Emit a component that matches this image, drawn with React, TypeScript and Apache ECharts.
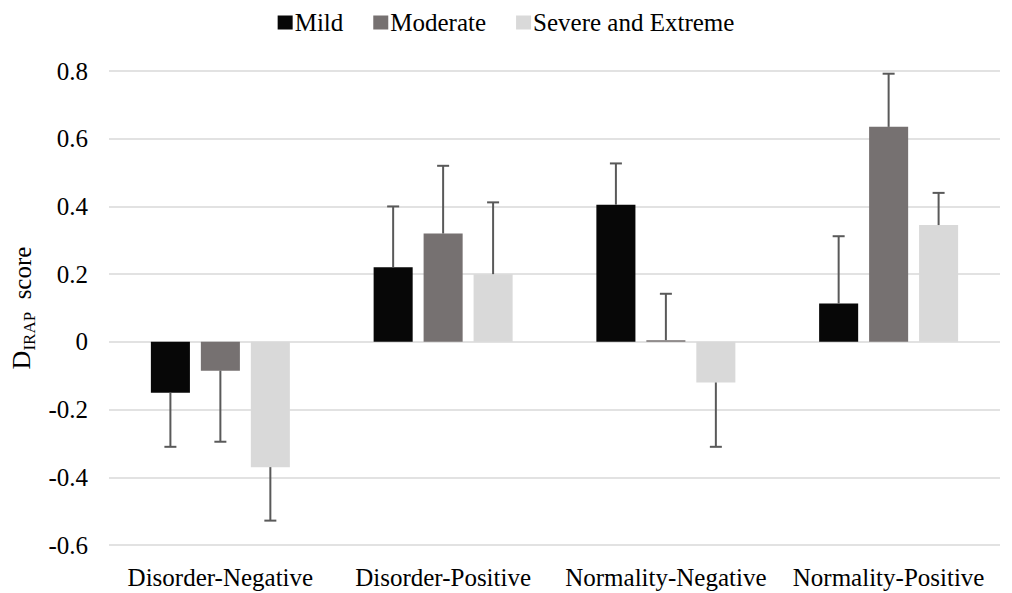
import React, { useEffect, useRef } from "react";
import * as echarts from "echarts";

const categories = ["Disorder-Negative", "Disorder-Positive", "Normality-Negative", "Normality-Positive"];
const seriesNames = ["Mild", "Moderate", "Severe and Extreme"];
const mild = [-0.15, 0.22, 0.405, 0.113];
const moderate = [-0.085, 0.32, 0.005, 0.635];
const severe = [-0.37, 0.2, -0.12, 0.345];
// error bar end points (value reached by the whisker)
const mildErr = [-0.31, 0.4, 0.527, 0.312];
const moderateErr = [-0.295, 0.52, 0.142, 0.792];
const severeErr = [-0.528, 0.412, -0.31, 0.44];
const yTicks = [-0.6, -0.4, -0.2, 0, 0.2, 0.4, 0.6, 0.8];

const colors = ["#070707", "#767171", "#D9D9D9"];
const FONT = "Liberation Serif";
const CAT_GAP = 0.376;
const BAR_GAP = 0.28;

export default function App() {
  const ref = useRef<HTMLDivElement>(null);
  useEffect(() => {
    document.body.style.margin = "0";
    const chart = echarts.init(ref.current!, null, { renderer: "svg" });
    const values = [mild, moderate, severe];
    const errs = [mildErr, moderateErr, severeErr];

    const barSeries = seriesNames.map((name, si) => ({
      name,
      type: "bar",
      data: values[si],
      barCategoryGap: `${CAT_GAP * 100}%`,
      barGap: `${BAR_GAP * 100}%`,
      itemStyle: { color: colors[si] },
      z: 2,
    }));

    const errSeries = seriesNames.map((name, si) => ({
      name: name + " error",
      type: "custom",
      z: 5,
      silent: true,
      encode: { x: 0, y: [1, 2] },
      data: categories.map((_, i) => [i, values[si][i], errs[si][i]]),
      renderItem: (params: any, api: any) => {
        const ci = api.value(0);
        const v = api.value(1);
        const e = api.value(2);
        const base = api.coord([ci, v]);
        const end = api.coord([ci, e]);
        const band = api.size([1, 0])[0];
        const groupW = band * (1 - CAT_GAP);
        const bw = groupW / (3 + 2 * BAR_GAP);
        const x = base[0] + (si - 1) * bw * (1 + BAR_GAP);
        const style = { stroke: "#595959", lineWidth: 2 };
        return {
          type: "group",
          children: [
            { type: "line", shape: { x1: x, y1: base[1], x2: x, y2: end[1] }, style },
            { type: "line", shape: { x1: x - 6, y1: end[1], x2: x + 6, y2: end[1] }, style },
          ],
        };
      },
    }));

    chart.setOption({
      animation: false,
      textStyle: { fontFamily: FONT },
      legend: {
        data: seriesNames,
        top: 5,
        left: "center",
        itemWidth: 15,
        itemHeight: 14,
        itemGap: 30,
        icon: "rect",
        textStyle: { fontFamily: FONT, fontSize: 25, color: "#000", padding: [0, 0, 0, -3] },
      },
      grid: { left: 109, right: 12, top: 71, bottom: 48, containLabel: false },
      xAxis: {
        type: "category",
        data: categories,
        axisLine: { show: false, onZero: false },
        axisTick: { show: false },
        axisLabel: { fontFamily: FONT, fontSize: 25, color: "#000", margin: 20, interval: 0 },
      },
      yAxis: {
        type: "value",
        min: yTicks[0],
        max: yTicks[yTicks.length - 1],
        interval: 0.2,
        axisLine: { show: false },
        axisTick: { show: false },
        splitLine: { lineStyle: { color: "#D9D9D9", width: 1.5 } },
        axisLabel: {
          fontFamily: FONT,
          fontSize: 25,
          color: "#000",
          margin: 21,
          formatter: (v: number) => (Math.abs(v) < 1e-9 ? "0" : v.toFixed(1)),
        },
        name: "{d|D}{s|IRAP}{n|  score}",
        nameLocation: "middle",
        nameGap: 70,
        nameRotate: 90,
        nameTextStyle: {
          fontFamily: FONT,
          color: "#000",
          rich: {
            d: { fontFamily: FONT, fontSize: 26, color: "#000", verticalAlign: "bottom" },
            s: { fontFamily: FONT, fontSize: 17, color: "#000", verticalAlign: "bottom", padding: [0, 0, -3, 0] },
            n: { fontFamily: FONT, fontSize: 25, color: "#000", verticalAlign: "bottom" },
          },
        },
      },
      series: [...barSeries, ...errSeries],
    });
    return () => chart.dispose();
  }, []);
  return <div ref={ref} style={{ width: 1012, height: 593, position: "absolute", left: 0, top: 0 }} />;
}
